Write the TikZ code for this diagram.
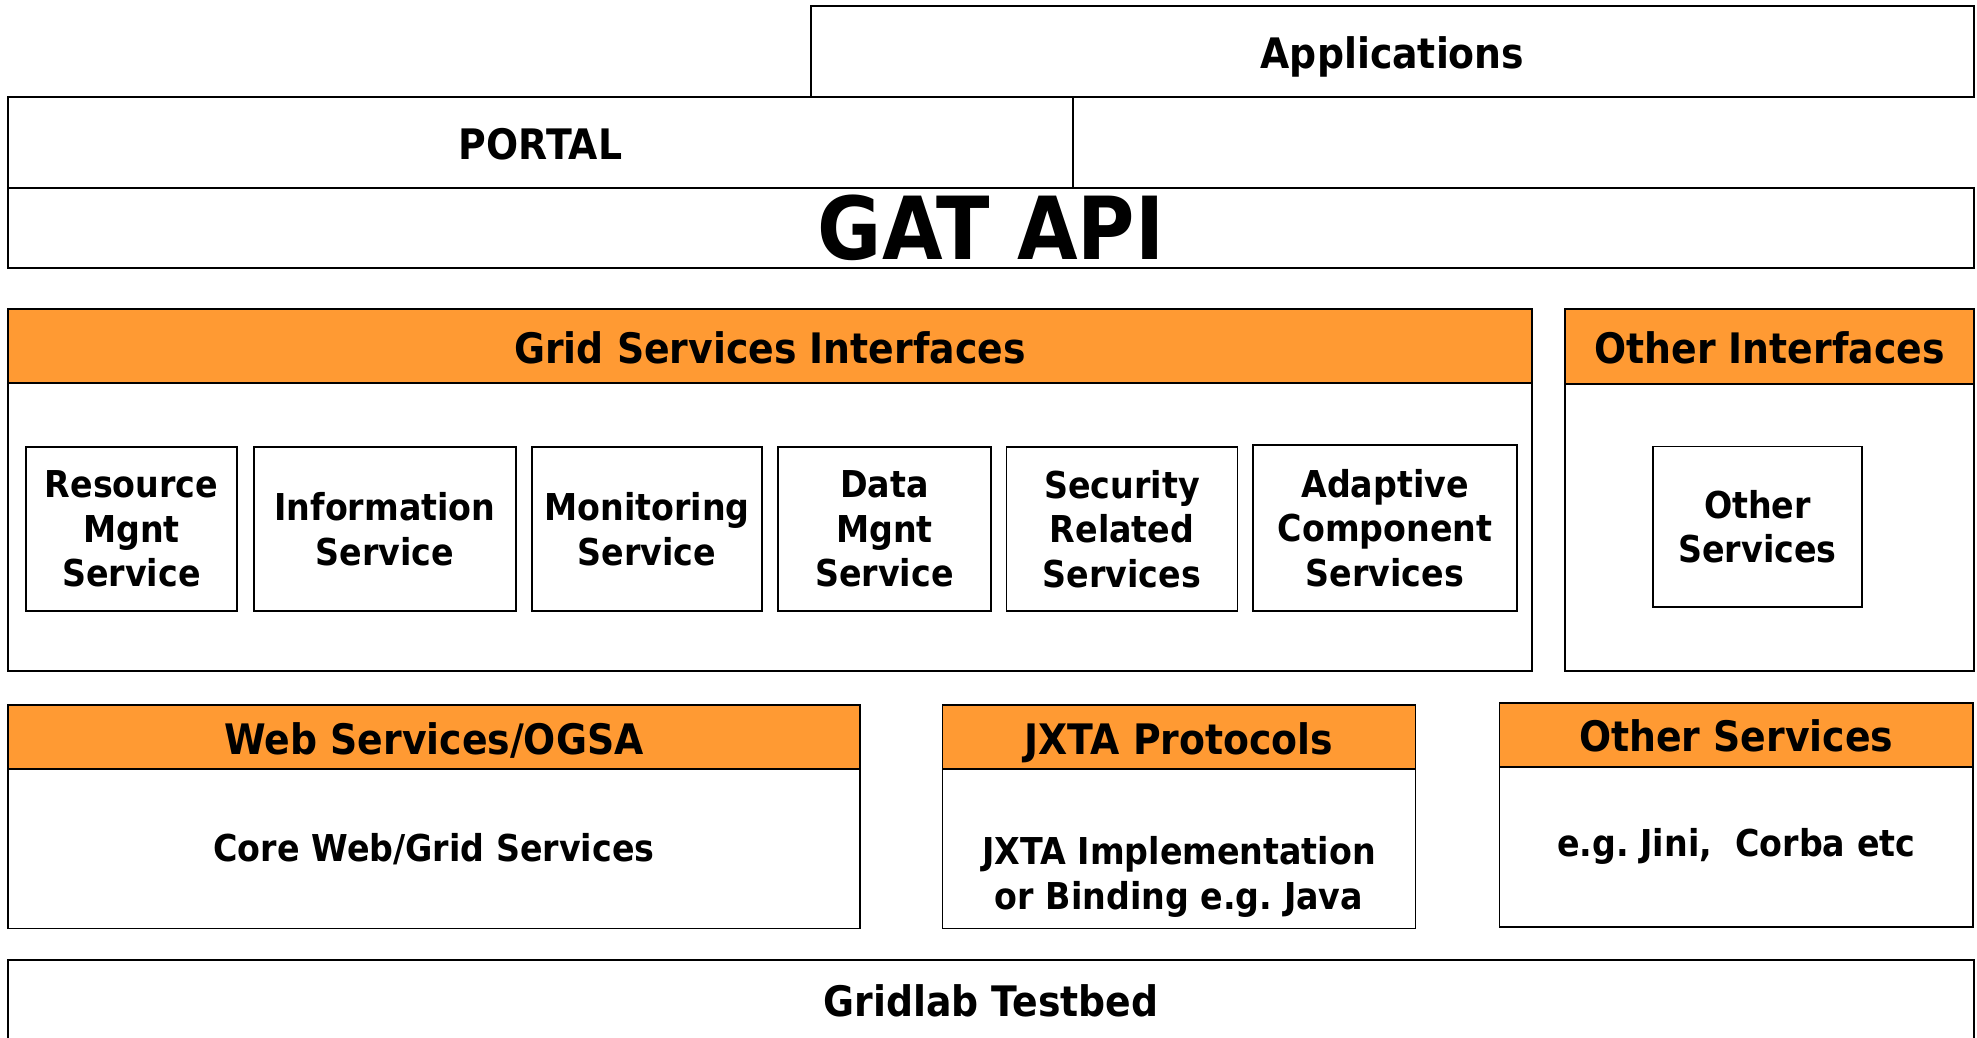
\documentclass[tikz,border=0pt]{standalone}
\usepackage{fontspec}
\setmainfont{DejaVu Sans}[FakeStretch=0.9]
\definecolor{gatorange}{RGB}{255,154,51}
\frenchspacing
\begin{document}
\begin{tikzpicture}[x=1pt,y=-1pt,
  frame/.style={draw=black, line width=1.6pt, inner sep=0pt, outer sep=0pt,
    font=\bfseries\fontsize{42}{50}\selectfont, text height=34.5pt, text depth=0pt},
  hdr/.style={frame, fill=gatorange},
  bodybox/.style={draw=black, line width=1.6pt, inner sep=0pt, outer sep=0pt,
    font=\bfseries\fontsize{37}{44.5}\selectfont, align=center},
  bigtext/.style={frame, font=\bfseries\fontsize{87}{100}\selectfont, text height=63.4pt},
]
\useasboundingbox (0,0) rectangle (1977,1037);
\clip (0,0) rectangle (1977,1037);
\fill[white] (0,0) rectangle (1977,1037);

% top layers
\node[frame, minimum width=1163pt, minimum height=91pt] (apps) at (1392.5,51.5) {Applications};
\node[frame, minimum width=1065pt, minimum height=91pt] (portal) at (540.5,142.5) {PORTAL};
\node[bigtext, minimum width=1966pt, minimum height=80pt] (gat) at (991,228) {GAT API};

% Grid services interfaces
\node[hdr, minimum width=1524pt, minimum height=74pt] (gsih) at (770,346) {Grid Services Interfaces};
\node[bodybox, minimum width=1524pt, minimum height=288pt] (gsib) at (770,527) {};
\node[hdr, minimum width=409pt, minimum height=75pt] (oih) at (1769.5,346.5) {Other Interfaces};
\node[bodybox, minimum width=409pt, minimum height=287pt] (oib) at (1769.5,527.5) {};

% inner services
\node[bodybox, minimum width=211pt, minimum height=164.5pt] (res) at (131.5,529) {Resource\\Mgnt\\Service};
\node[bodybox, minimum width=262pt, minimum height=164.5pt] (info) at (385,529) {Information\\Service};
\node[bodybox, minimum width=230pt, minimum height=164.5pt] (mon) at (647,529) {Monitoring\\Service};
\node[bodybox, minimum width=213pt, minimum height=164.5pt] (data) at (884.5,529) {Data\\Mgnt\\Service};
\node[bodybox, minimum width=231pt, minimum height=164.5pt] (sec) at (1122,529) {Security\\Related\\Services};
\node[bodybox, minimum width=264pt, minimum height=166pt] (adapt) at (1385,528) {Adaptive\\Component\\Services};
\node[bodybox, minimum width=209pt, minimum height=160.5pt] (othin) at (1757.5,526.75) {Other\\Services};

% lower layers
\node[hdr, minimum width=852pt, minimum height=64pt] (webh) at (434,737) {Web Services/OGSA};
\node[bodybox, minimum width=852pt, minimum height=159.5pt] (webb) at (434,848.75) {Core Web/Grid Services};
\node[hdr, minimum width=473pt, minimum height=64pt] (jxh) at (1179,737) {JXTA Protocols};
\node[bodybox, minimum width=473pt, minimum height=159.5pt] (jxb) at (1179,848.75) {};
\node[font=\bfseries\fontsize{37}{44.5}\selectfont, align=center, inner sep=0pt] (jxt) at (1179,877) {JXTA Implementation\\or Binding e.g. Java};
\node[hdr, minimum width=473.5pt, minimum height=64pt] (osh) at (1736.25,734.7) {Other Services};
\node[bodybox, minimum width=473.5pt, minimum height=160pt] (osb) at (1736.25,846.7) {e.g. Jini,~ Corba etc};

% testbed
\node[frame, minimum width=1966pt, minimum height=79pt] (grid) at (991,999.5) {Gridlab Testbed};
\end{tikzpicture}
\end{document}
